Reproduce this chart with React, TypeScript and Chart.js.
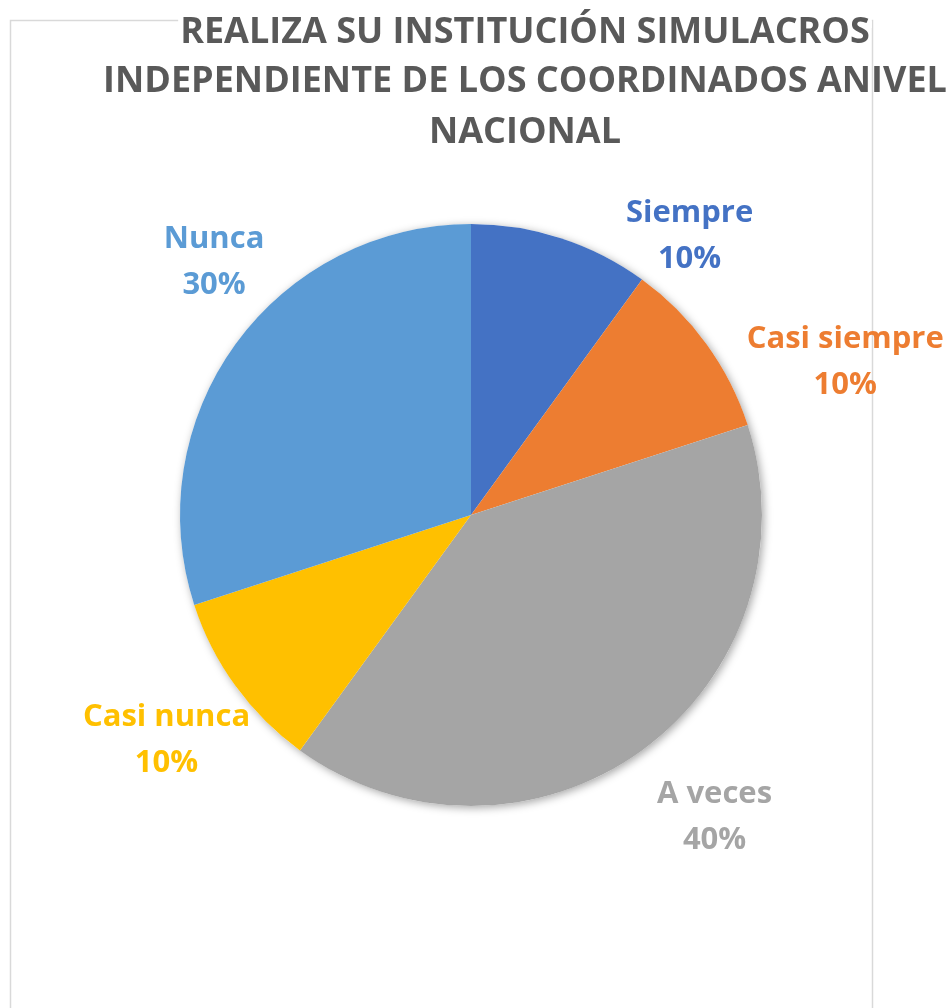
import React, { useEffect, useRef } from "react";
import { Chart, registerables } from "chart.js";

Chart.register(...registerables);

const categories = ["Siempre", "Casi siempre", "A veces", "Casi nunca", "Nunca"];
const values = [10, 10, 40, 10, 30];
const colors = ["#4472C4", "#ED7D31", "#A5A5A5", "#FFC000", "#5B9BD5"];
const titleLines = [
  "REALIZA SU INSTITUCIÓN SIMULACROS",
  "INDEPENDIENTE DE LOS COORDINADOS ANIVEL",
  "NACIONAL",
];

// label placement: [angle in degrees clockwise from top, distance in radii]
const labelPlacement: [number, number][] = [
  [38, 1.22],
  [67.7, 1.39],
  [141, 1.33],
  [233.6, 1.3],
  [314.6, 1.24],
];

const FONT = '"Open Sans", "Lato", sans-serif';

export default function App() {
  const ref = useRef<HTMLCanvasElement>(null);

  useEffect(() => {
    document.body.style.margin = "0";
    const canvas = ref.current!;
    const total = values.reduce((a, b) => a + b, 0);

    const decor = {
      id: "decor",
      beforeDraw(chart: any) {
        const ctx = chart.ctx;
        ctx.save();
        ctx.fillStyle = "#ffffff";
        ctx.fillRect(0, 0, chart.width, chart.height);
        ctx.strokeStyle = "#d9d9d9";
        ctx.lineWidth = 1.5;
        ctx.beginPath();
        ctx.moveTo(10.5, chart.height);
        ctx.lineTo(10.5, 20.5);
        ctx.lineTo(872.5, 20.5);
        ctx.lineTo(872.5, chart.height);
        ctx.stroke();
        ctx.restore();
      },
      beforeDatasetsDraw(chart: any) {
        const arc = chart.getDatasetMeta(0).data[0];
        if (!arc) return;
        const ctx = chart.ctx;
        ctx.save();
        ctx.shadowColor = "rgba(0,0,0,0.35)";
        ctx.shadowBlur = 9;
        ctx.shadowOffsetX = 2;
        ctx.shadowOffsetY = 2;
        ctx.fillStyle = "#ffffff";
        ctx.beginPath();
        ctx.arc(arc.x, arc.y, arc.outerRadius, 0, Math.PI * 2);
        ctx.fill();
        ctx.restore();
      },
      afterDatasetsDraw(chart: any) {
        const meta = chart.getDatasetMeta(0);
        const arc0 = meta.data[0];
        const ctx = chart.ctx;
        ctx.save();
        // title
        ctx.font = `bold 36px ${FONT}`;
        ctx.textAlign = "center";
        ctx.textBaseline = "middle";
        const tx = 525;
        const ty = [33, 82, 133];
        titleLines.forEach((line, i) => {
          const w = ctx.measureText(line).width;
          ctx.fillStyle = "#ffffff";
          if (i === 0) ctx.fillRect(tx - w / 2 - 2, 14, w + 4, 14);
          ctx.fillStyle = "#595959";
          ctx.fillText(line, tx, ty[i]);
        });
        // data labels
        ctx.font = `bold 31px ${FONT}`;
        categories.forEach((cat, i) => {
          const [deg, f] = labelPlacement[i];
          const a = (deg * Math.PI) / 180;
          const x = arc0.x + Math.sin(a) * arc0.outerRadius * f;
          const y = arc0.y - Math.cos(a) * arc0.outerRadius * f;
          ctx.fillStyle = colors[i];
          ctx.fillText(cat, x, y - 22);
          ctx.fillText(`${Math.round((values[i] / total) * 100)}%`, x, y + 24);
        });
        ctx.restore();
      },
    };

    const chart = new Chart(canvas, {
      type: "pie",
      data: {
        labels: categories,
        datasets: [
          {
            data: values,
            backgroundColor: colors,
            borderWidth: 0,
          },
        ],
      },
      options: {
        animation: false,
        responsive: false,
        maintainAspectRatio: false,
        layout: { padding: { left: 180, right: 188, top: 224, bottom: 202 } },
        plugins: {
          legend: { display: false },
          title: { display: false },
          tooltip: { enabled: false },
        },
      },
      plugins: [decor],
    });
    return () => chart.destroy();
  }, []);

  return (
    <div style={{ position: "absolute", left: 0, top: 0, width: 950, height: 1008 }}>
      <canvas ref={ref} width={950} height={1008} style={{ display: "block" }} />
    </div>
  );
}
